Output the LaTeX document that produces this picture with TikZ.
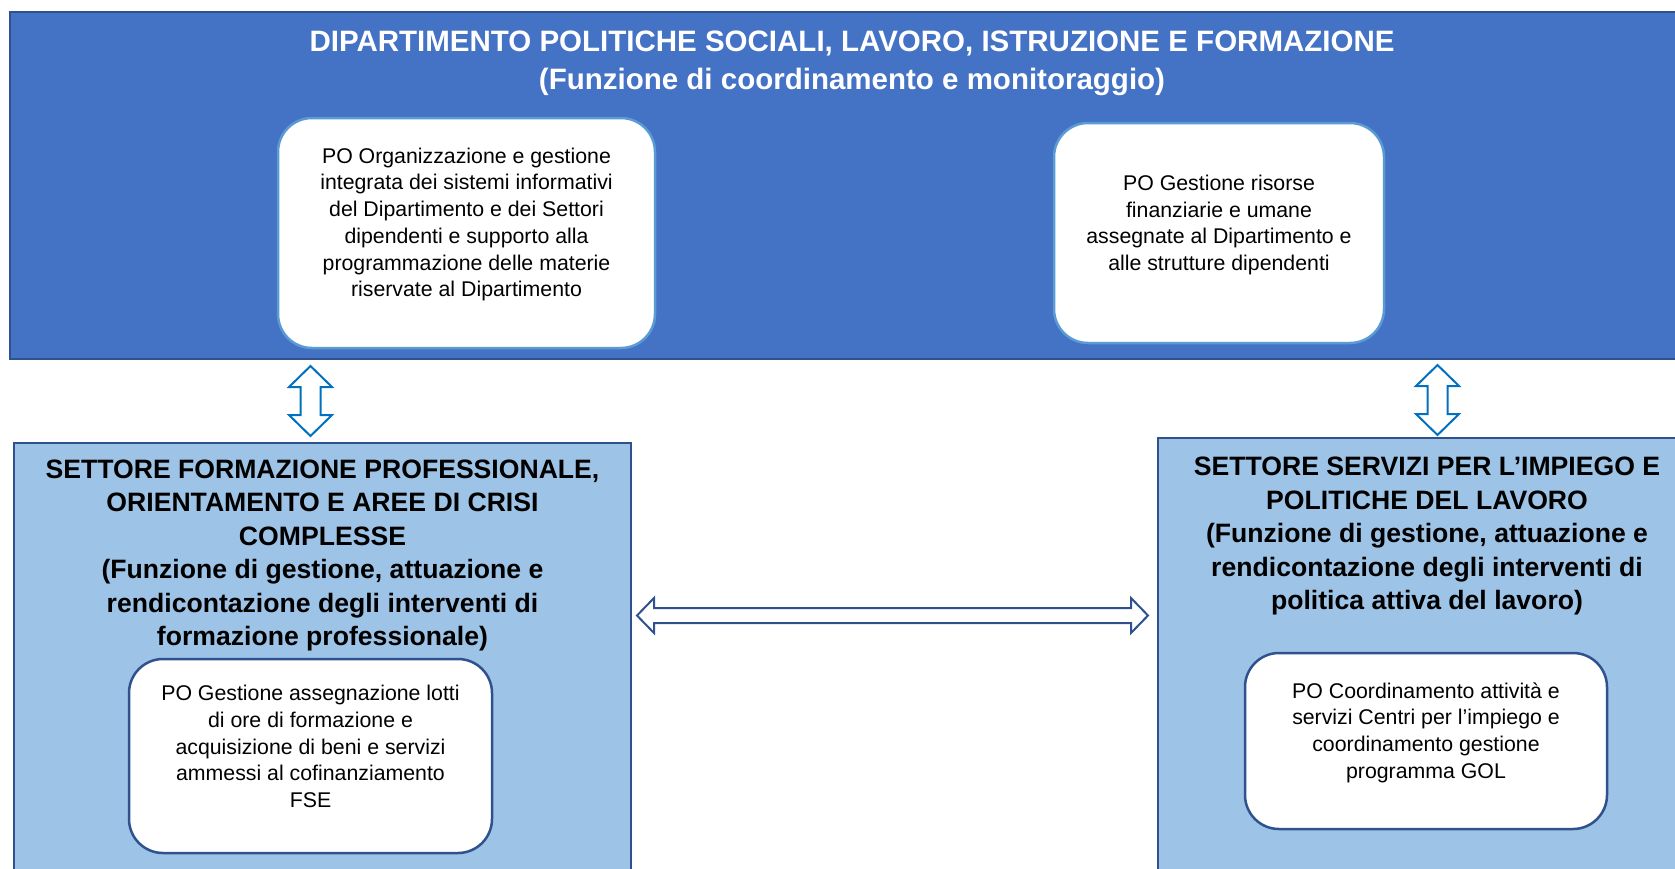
\documentclass[tikz,border=0pt]{standalone}
\usepackage{fontspec}
\setmainfont{Liberation Sans}
\usetikzlibrary{calc}
\definecolor{deptblue}{HTML}{4472C4}
\definecolor{edgeblue}{HTML}{2F528F}
\definecolor{lightedge}{HTML}{5B9BD5}
\definecolor{settfill}{HTML}{9DC3E6}
\definecolor{arrowblue}{HTML}{0070C0}
\begin{document}
\begin{tikzpicture}[x=1pt,y=-1pt,
	dept/.style={draw=edgeblue,fill=deptblue,line width=2pt,inner sep=0pt},
	settore/.style={draw=edgeblue,fill=settfill,line width=2pt,inner sep=0pt},
	pobox/.style={draw=#1,fill=white,line width=2.5pt,rounded corners=34pt,inner sep=0pt},
	potext/.style={align=center,inner sep=0pt,font=\fontsize{21.3}{26.7}\selectfont},
	headtext/.style={align=center,inner sep=0pt,font=\bfseries\fontsize{26.6}{33.5}\selectfont},
	vflow/.style={draw=arrowblue,fill=white,line width=2pt},
	hflow/.style={draw=edgeblue,fill=white,line width=2pt}]
	\useasboundingbox (0,0) rectangle (1675,868);
	\clip (0,0) rectangle (1675,868);

	% dipartimento
	\node[dept,minimum width=1684pt,minimum height=347pt] (dip) at (852,185.5) {};
	\node[align=center,inner sep=0pt,text=white,font=\bfseries\fontsize{29.5}{38.5}\selectfont] (diptitle) at (852,63.5)
		{DIPARTIMENTO POLITICHE SOCIALI, LAVORO, ISTRUZIONE E FORMAZIONE\\(Funzione di coordinamento e monitoraggio)};
	\node[pobox=lightedge,minimum width=377pt,minimum height=230pt] (po1) at (466.5,233) {};
	\node[potext] (po1text) at (466.5,224.5) {PO Organizzazione e gestione\\integrata dei sistemi informativi\\del Dipartimento e dei Settori\\dipendenti e supporto alla\\programmazione delle materie\\riservate al Dipartimento};
	\node[pobox=lightedge,minimum width=330pt,minimum height=220pt] (po2) at (1219,233) {};
	\node[potext] (po2text) at (1219,225) {PO Gestione risorse\\finanziarie e umane\\assegnate al Dipartimento e\\alle strutture dipendenti};

	% settori
	\node[settore,minimum width=617pt,minimum height=457pt] (sfp) at (322.5,671.5) {};
	\node[headtext] (sfptext) at (322.5,555.5) {SETTORE FORMAZIONE PROFESSIONALE,\\ORIENTAMENTO E AREE DI CRISI\\COMPLESSE\\(Funzione di gestione, attuazione e\\rendicontazione degli interventi di\\formazione professionale)};
	\node[pobox=edgeblue,minimum width=363pt,minimum height=194pt] (po3) at (310.5,756) {};
	\node[potext] (po3text) at (310.5,746.5) {PO Gestione assegnazione lotti\\di ore di formazione e\\acquisizione di beni e servizi\\ammessi al cofinanziamento\\FSE};

	\node[settore,minimum width=538pt,minimum height=462pt] (ssi) at (1427,669) {};
	\node[headtext] (ssitext) at (1427,536) {SETTORE SERVIZI PER L’IMPIEGO E\\POLITICHE DEL LAVORO\\(Funzione di gestione, attuazione e\\rendicontazione degli interventi di\\politica attiva del lavoro)};
	\node[pobox=edgeblue,minimum width=362pt,minimum height=176pt] (po4) at (1426,741) {};
	\node[potext] (po4text) at (1426,732.5) {PO Coordinamento attività e\\servizi Centri per l’impiego e\\coordinamento gestione\\programma GOL};

	% frecce
	\coordinate (up1) at (310.5,366);
	\coordinate (dn1) at (310.5,436);
	\coordinate (up2) at (1437.5,365);
	\coordinate (dn2) at (1437.5,435);
	\coordinate (lt) at (637,615.5);
	\coordinate (rt) at (1148,615.5);
	\foreach \src/\dst in {up1/dn1,up2/dn2}
		\draw[vflow] (\src) -- ++(21.5,21) -- ++(-11.5,0) -- ($(\dst)+(10,-21)$) -- ++(11.5,0) -- (\dst)
			-- ++(-21.5,-21) -- ++(11.5,0) -- ($(\src)+(-10,21)$) -- ++(-11.5,0) -- cycle;
	\draw[hflow] (lt) -- ++(17,-17.5) -- ++(0,10) -- ($(rt)+(-17,-7.5)$) -- ++(0,-10) -- (rt)
		-- ++(-17,17.5) -- ++(0,-10) -- ($(lt)+(17,7.5)$) -- ++(0,10) -- cycle;
\end{tikzpicture}
\end{document}
